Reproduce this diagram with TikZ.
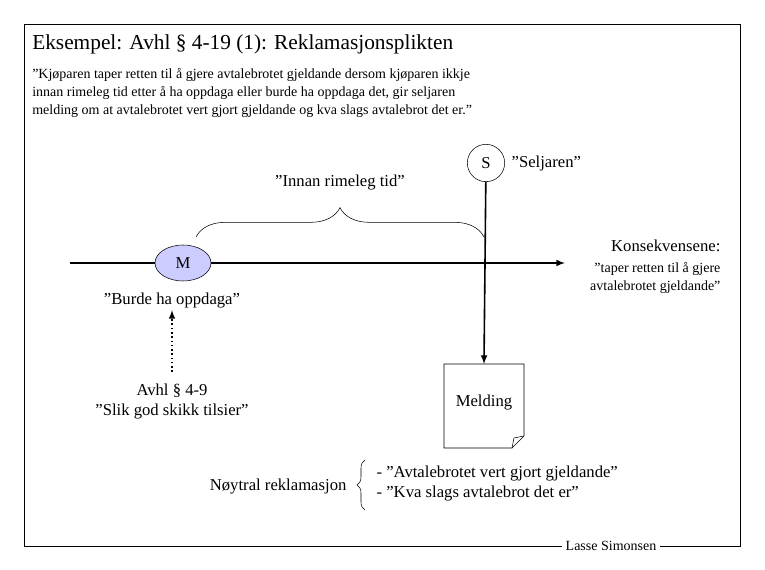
\documentclass[tikz,border=0pt]{standalone}
\usepackage{fontspec}
\setmainfont{Liberation Serif}
\usetikzlibrary{decorations.pathreplacing,shapes.geometric}
\definecolor{mfill}{RGB}{204,204,255}
\begin{document}
\begin{tikzpicture}[x=0.75pt, y=-0.75pt]
	\tikzstyle{lbl} = [inner sep=1pt, font=\fontsize{12.5}{15}\selectfont]
	\tikzstyle{small} = [inner sep=1pt, font=\fontsize{10.5}{13.5}\selectfont, align=left]
	\useasboundingbox (0,0) rectangle (765,570);
	\draw (24,24) rectangle (740,546);
	\node[anchor=west, inner sep=0pt, font=\fontsize{16}{19}\selectfont] (title) at (32,44) {Eksempel: Avhl § 4-19 (1): Reklamasjonsplikten};
	\node[small, anchor=north west, inner sep=0pt] (quote) at (32,68) {”Kjøparen taper retten til å gjere avtalebrotet gjeldande dersom kjøparen ikkje\\innan rimeleg tid etter å ha oppdaga eller burde ha oppdaga det, gir seljaren\\melding om at avtalebrotet vert gjort gjeldande og kva slags avtalebrot det er.”};
	% time axis
	\coordinate (start) at (70,263);
	\coordinate (end) at (565,263);
	\draw[line width=1.2pt, -latex] (start) -- (end);
	\node[draw, ellipse, fill=mfill, minimum width=42pt, minimum height=27pt, inner sep=0pt, lbl] (m) at (183,263) {M};
	\node[draw, circle, fill=white, minimum size=28pt, inner sep=0pt, lbl] (s) at (486,163) {S};
	\node[lbl, anchor=west] (seller) at (510,163) {”Seljaren”};
	% melding
	\draw[fill=white] (444,364) -- (524,364) -- (524,436) -- (512,448) -- (444,448) -- cycle;
	\draw (524,436) -- (514,438) -- (512,448);
	\node[lbl] (melding) at (484,403) {Melding};
	\coordinate (mtop) at (484,364);
	\draw[line width=1.2pt, -latex] (s) -- (mtop);
	% brace
	\coordinate (b1) at (196,237);
	\coordinate (b2) at (484,237);
	\draw[decorate, decoration={brace, amplitude=22pt, aspect=0.5}] (b1) -- (b2);
	\node[lbl] (innan) at (340,183) {”Innan rimeleg tid”};
	% consequences
	\node[lbl, anchor=east] (kons) at (722,246) {Konsekvensene:};
	\node[small, anchor=north east, align=right] (taper) at (722,261) {”taper retten til å gjere\\avtalebrotet gjeldande”};
	% buyer side
	\node[lbl] (burde) at (172,301) {”Burde ha oppdaga”};
	\node[lbl, align=center] (avhl) at (172,402) {Avhl § 4-9\\”Slik god skikk tilsier”};
	\coordinate (dstart) at (172,372);
	\draw[dotted, line width=1.2pt, -latex] (dstart) -- (burde.south);
	% bottom
	\node[lbl, anchor=east] (noytral) at (348,487) {Nøytral reklamasjon};
	\coordinate (l1) at (365,460);
	\coordinate (l2) at (365,510);
	\draw[decorate, decoration={brace, amplitude=6pt}] (l2) -- (l1);
	\node[lbl, anchor=west, align=left] (items) at (375,484) {- ”Avtalebrotet vert gjort gjeldande”\\- ”Kva slags avtalebrot det er”};
	\node[fill=white, inner sep=3pt, font=\fontsize{10.5}{12}\selectfont] (author) at (611,546) {Lasse Simonsen};
\end{tikzpicture}
\end{document}
